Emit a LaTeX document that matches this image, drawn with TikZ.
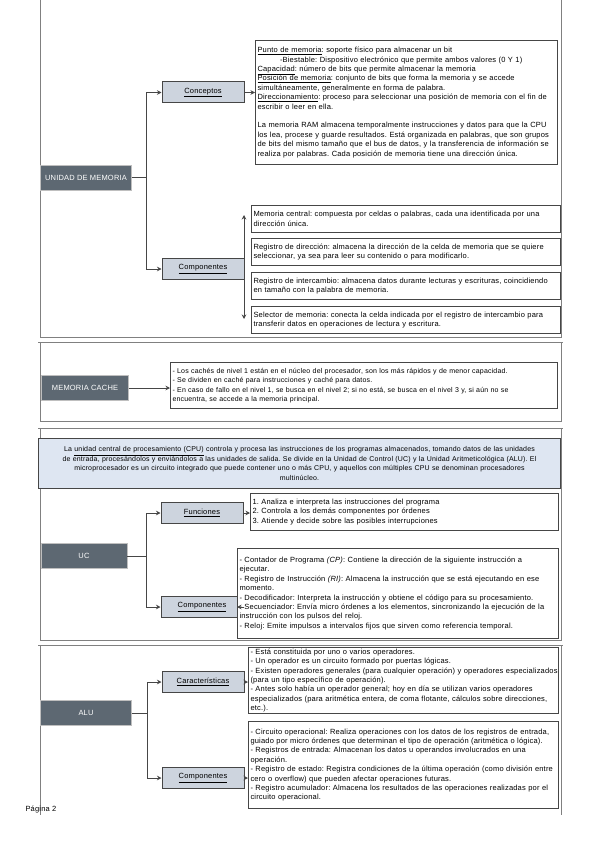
\documentclass[tikz,border=0pt]{standalone}
\usepackage{fontspec}
\setmainfont{Liberation Sans}[LetterSpace=2.5]
\usepackage{tikz}
\usetikzlibrary{arrows.meta}

\newcommand{\fs}{\fontsize{7.5}{9.4}\selectfont\frenchspacing\hyphenpenalty=10000\relax}
\newcommand{\fss}{\fontsize{7}{9.4}\selectfont\frenchspacing\hyphenpenalty=10000\relax}
\definecolor{slate}{RGB}{93,104,114}
\definecolor{subfill}{RGB}{205,212,222}
\definecolor{edgegray}{RGB}{70,70,70}
\definecolor{cpufill}{RGB}{222,230,242}

\begin{document}
\begin{tikzpicture}[x=1pt,y=-1pt]
    \tikzstyle{mainbox} = [rectangle, draw=gray!50, fill=slate, text=white, font=\fs, inner sep=0pt, minimum height=25pt]
    \tikzstyle{subbox} = [rectangle, draw=edgegray, line width=1pt, fill=subfill, font=\fs, inner sep=0pt, minimum width=82pt, minimum height=21pt]
    \tikzstyle{infobox} = [rectangle, draw=edgegray, line width=1pt, fill=white, font=\fs, align=left, anchor=north west, inner xsep=2pt, inner ysep=1pt]
    \tikzstyle{link} = [edgegray, line width=1pt, -{Stealth[length=4.5pt,width=4.5pt]}]
    \tikzstyle{frame} = [gray, line width=1pt]
    \useasboundingbox (0,0) rectangle (599,848);
    % section frames
    \draw[frame] (40,0) -- (40,337) -- (561,337) -- (561,0);
    \draw[frame] (38,342) -- (563,342); \draw[frame] (40,342) -- (40,421) -- (561,421) -- (561,342);
    \draw[frame] (38,428) -- (563,428); \draw[frame] (40,428) -- (40,640) -- (561,640) -- (561,428);
    \draw[frame] (38,645) -- (563,645); \draw[frame] (40,645) -- (40,815); \draw[frame] (561,645) -- (561,815);
    % unidad de memoria
    \node[mainbox, minimum width=91pt] (mem) at (86,177.5) {UNIDAD DE MEMORIA};
    \node[subbox] (conc) at (203,92.5) {\underline{Conceptos}};
    \node[subbox] (comp) at (203,269) {\underline{Componentes}};
    \node[infobox, text width=298pt, minimum height=124pt] (concbox) at (255,40) {\underline{Punto de memoria}: soporte físico para almacenar un bit\\
        \hspace*{3em}-Biestable: Dispositivo electrónico que permite ambos valores (0 Y 1)\\
        \underline{Capacidad}: número de bits que permite almacenar la memoria\\
        \underline{Posición de memoria}: conjunto de bits que forma la memoria y se accede\\
        simultáneamente, generalmente en forma de palabra.\\
        \underline{Direccionamiento}: proceso para seleccionar una posición de memoria con el fin de\\
        escribir o leer en ella.\\[9.4pt]
        La memoria RAM almacena temporalmente instrucciones y datos para que la CPU\\
        los lea, procese y guarde resultados. Está organizada en palabras, que son grupos\\
        de bits del mismo tamaño que el bus de datos, y la transferencia de información se\\
        realiza por palabras. Cada posición de memoria tiene una dirección única.};
    \node[infobox, text width=305pt, minimum height=27pt] (central) at (251,205) {Memoria central: compuesta por celdas o palabras, cada una identificada por una\\ dirección única.};
    \node[infobox, text width=305pt, minimum height=27pt] (regdir) at (251,238) {Registro de dirección: almacena la dirección de la celda de memoria que se quiere\\ seleccionar, ya sea para leer su contenido o para modificarlo.};
    \node[infobox, text width=305pt, minimum height=27pt] (regint) at (251,272) {Registro de intercambio: almacena datos durante lecturas y escrituras, coincidiendo\\ en tamaño con la palabra de memoria.};
    \node[infobox, text width=305pt, minimum height=27pt] (selec) at (251,306) {Selector de memoria: conecta la celda indicada por el registro de intercambio para\\ transferir datos en operaciones de lectura y escritura.};
    \coordinate (memfork) at (146,177.5);
    \coordinate (comptop) at (244,215); \coordinate (compbot) at (244,319);
    \draw[edgegray, line width=1pt] (mem.east) -- (memfork);
    \draw[link] (memfork) |- (conc.west); \draw[link] (memfork) |- (comp.west);
    \draw[link] (conc.east) -- (conc.east -| concbox.west);
    \draw[link, {Stealth[length=4.5pt,width=4.5pt]}-{Stealth[length=4.5pt,width=4.5pt]}] (comptop) -- (compbot);
    % memoria cache
    \node[mainbox, minimum width=87pt] (cache) at (85,388) {MEMORIA CACHE};
    \node[infobox, font=\fss, text width=383pt, minimum height=46pt] (cachebox) at (170,362) {- Los cachés de nivel 1 están en el núcleo del procesador, son los más rápidos y de menor capacidad.\\
        - Se dividen en caché para instrucciones y caché para datos.\\
        - En caso de fallo en el nivel 1, se busca en el nivel 2; si no está, se busca en el nivel 3 y, si aún no se\\
        encuentra, se accede a la memoria principal.};
    \draw[link] (cache.east) -- (cache.east -| cachebox.west);
    % cpu / uc
    \node[infobox, font=\fss, fill=cpufill, align=center, text width=518pt, minimum height=50pt] (cpu) at (38,438) {La \underline{unidad central de procesamiento (CPU)} controla y procesa las instrucciones de los programas almacenados, tomando datos de las unidades\\
        de entrada, procesándolos y enviándolos a las unidades de salida. Se divide en la Unidad de Control (UC) y la Unidad Aritmeticológica (ALU). El\\
        microprocesador es un circuito integrado que puede contener uno o más CPU, y aquellos con múltiples CPU se denominan procesadores\\
        multinúcleo.};
    \node[mainbox, minimum width=86pt] (uc) at (84,556) {UC};
    \node[subbox] (fun) at (202,513) {\underline{Funciones}};
    \node[subbox] (ucomp) at (202,607) {\underline{Componentes}};
    \node[infobox, text width=304pt, minimum height=37pt] (funbox) at (250,493) {1. Analiza e interpreta las instrucciones del programa\\
        2. Controla a los demás componentes por órdenes\\
        3. Atiende y decide sobre las posibles interrupciones};
    \node[infobox, text width=317pt, minimum height=90pt] (ucompbox) at (237,548) {- Contador de Programa \textit{(CP)}: Contiene la dirección de la siguiente instrucción a\\
        ejecutar.\\
        - Registro de Instrucción \textit{(RI)}: Almacena la instrucción que se está ejecutando en ese\\
        momento.\\
        - Decodificador: Interpreta la instrucción y obtiene el código para su procesamiento.\\
        - Secuenciador: Envía micro órdenes a los elementos, sincronizando la ejecución de la\\
        instrucción con los pulsos del reloj.\\
        - Reloj: Emite impulsos a intervalos fijos que sirven como referencia temporal.};
    \coordinate (ucfork) at (146,556);
    \draw[edgegray, line width=1pt] (uc.east) -- (ucfork);
    \draw[link] (ucfork) |- (fun.west); \draw[link] (ucfork) |- (ucomp.west);
    \draw[link] (fun.east) -- (fun.east -| funbox.west);
    \draw[link] (ucomp.east) -- (ucomp.east -| ucompbox.west);
    % alu
    \node[mainbox, minimum width=91pt] (alu) at (86,713) {ALU};
    \node[subbox] (carac) at (203,682) {\underline{Características}};
    \node[subbox] (acomp) at (203,778) {\underline{Componentes}};
    \node[infobox, text width=306pt, minimum height=66pt] (caracbox) at (248,647) {- Está constituida por uno o varios operadores.\\
        - Un operador es un circuito formado por puertas lógicas.\\
        - Existen operadores generales (para cualquier operación) y operadores especializados\\
        (para un tipo específico de operación).\\
        - Antes solo había un operador general; hoy en día se utilizan varios operadores\\
        especializados (para aritmética entera, de coma flotante, cálculos sobre direcciones,\\
        etc.).};
    \node[infobox, text width=306pt, minimum height=87pt] (acompbox) at (248,721) {- Circuito operacional: Realiza operaciones con los datos de los registros de entrada,\\
        guiado por micro órdenes que determinan el tipo de operación (aritmética o lógica).\\
        - Registros de entrada: Almacenan los datos u operandos involucrados en una\\
        operación.\\
        - Registro de estado: Registra condiciones de la última operación (como división entre\\
        cero o overflow) que pueden afectar operaciones futuras.\\
        - Registro acumulador: Almacena los resultados de las operaciones realizadas por el\\
        circuito operacional.};
    \coordinate (alufork) at (147,713);
    \draw[edgegray, line width=1pt] (alu.east) -- (alufork);
    \draw[link] (alufork) |- (carac.west); \draw[link] (alufork) |- (acomp.west);
    \draw[link] (carac.east) -- (carac.east -| caracbox.west);
    \draw[link] (acomp.east) -- (acomp.east -| acompbox.west);
    \node[font=\fs, anchor=west] (pag) at (22,810) {Página 2};
\end{tikzpicture}
\end{document}
